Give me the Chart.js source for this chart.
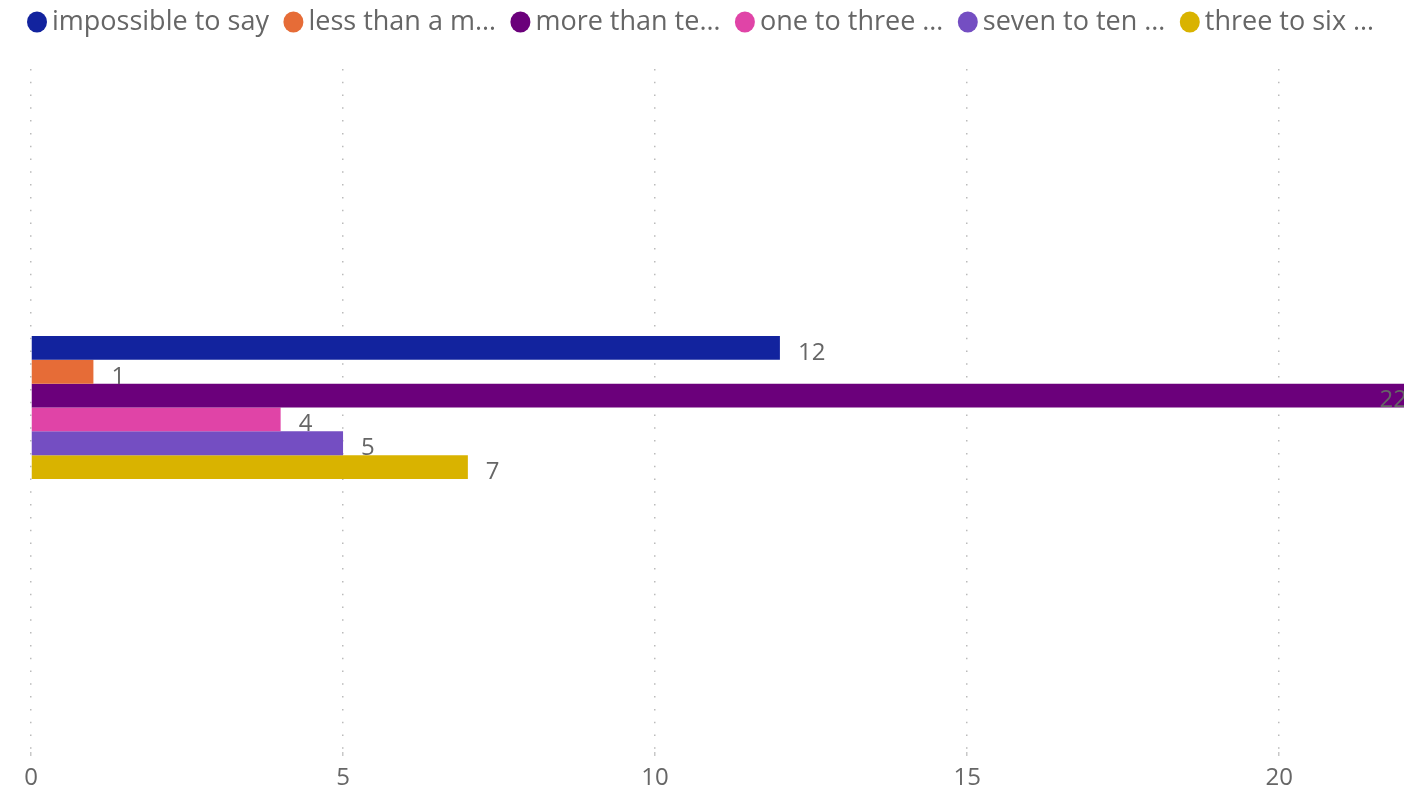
<!DOCTYPE html>
<html>
<head>
<meta charset="utf-8">
<script src="https://cdn.jsdelivr.net/npm/chart.js@4.4.1/dist/chart.umd.min.js"></script>
<style>
  html, body { margin: 0; padding: 0; background: #ffffff; }
  #wrap { width: 1404px; height: 801px; position: relative; }
</style>
</head>
<body>
<div id="wrap"><canvas id="c"></canvas></div>
<script>
const categories = [''];
const seriesNames = ['impossible to say', 'less than a m…', 'more than te…', 'one to three …', 'seven to ten …', 'three to six …'];
const seriesValues = [12, 1, 22, 4, 5, 7];
const seriesColors = ['#12239E', '#E66C37', '#6B007B', '#E044A7', '#744EC2', '#D9B300'];
const xTicks = [0, 5, 10, 15, 20];
const xMax = 22;

const FONT = '"Open Sans", "Noto Sans", sans-serif';
const TEXT = '#666666';

const datasets = seriesNames.map((name, i) => ({
  label: name,
  data: [seriesValues[i]],
  backgroundColor: seriesColors[i],
  borderWidth: 0,
  categoryPercentage: 0.2075,
  barPercentage: 1.0
}));

const legendPlugin = {
  id: 'customLegend',
  afterDraw(chart) {
    const ctx = chart.ctx;
    ctx.save();
    ctx.font = '27px ' + FONT;
    ctx.textBaseline = 'middle';
    ctx.textAlign = 'left';
    let x = 27;
    const cy = 22;
    chart.data.datasets.forEach(ds => {
      ctx.fillStyle = ds.backgroundColor;
      ctx.beginPath();
      ctx.ellipse(x + 10, cy, 10, 10.5, 0, 0, Math.PI * 2);
      ctx.fill();
      ctx.fillStyle = TEXT;
      ctx.fillText(ds.label, x + 25, cy);
      x += 25 + ctx.measureText(ds.label).width + 14.5;
    });
    ctx.restore();
  }
};

const labelPlugin = {
  id: 'valueLabels',
  afterDatasetsDraw(chart) {
    const ctx = chart.ctx;
    const area = chart.chartArea;
    ctx.save();
    ctx.font = '24px ' + FONT;
    ctx.textBaseline = 'middle';
    chart.data.datasets.forEach((ds, i) => {
      const meta = chart.getDatasetMeta(i);
      meta.data.forEach((el, j) => {
        const txt = String(ds.data[j]);
        const w = ctx.measureText(txt).width;
        ctx.fillStyle = TEXT;
        if (el.x + 18 + w > area.right) {
          ctx.textAlign = 'right';
          ctx.fillText(txt, el.x + 3, el.y + 5);
        } else {
          ctx.textAlign = 'left';
          ctx.fillText(txt, el.x + 18, el.y + 5);
        }
      });
    });
    ctx.restore();
  }
};

new Chart(document.getElementById('c'), {
  type: 'bar',
  data: { labels: categories, datasets },
  options: {
    indexAxis: 'y',
    responsive: true,
    maintainAspectRatio: false,
    animation: false,
    layout: { padding: { top: 63, left: 31, right: 0, bottom: 0 } },
    plugins: {
      legend: { display: false },
      tooltip: { enabled: false }
    },
    scales: {
      x: {
        type: 'linear',
        min: 0,
        max: xMax,
        afterBuildTicks: s => { s.ticks = xTicks.map(v => ({ value: v })); },
        afterFit: s => { s.height = 49; },
        border: { display: false, dash: [1.5, 11.3], dashOffset: -5.9 },
        grid: {
          color: '#BBBBBB',
          lineWidth: 1.5,
          borderDash: [1.5, 11.3],
          borderDashOffset: -5.9,
          drawTicks: true,
          tickLength: 4,
          tickColor: '#C8C8C8',
          tickBorderDash: [],
          tickBorderDashOffset: 0
        },
        ticks: {
          includeBounds: false,
          color: TEXT,
          font: { family: FONT, size: 24 },
          padding: 8,
          maxRotation: 0
        }
      },
      y: {
        display: false,
        grid: { display: false }
      }
    }
  },
  plugins: [legendPlugin, labelPlugin]
});
</script>
</body>
</html>
